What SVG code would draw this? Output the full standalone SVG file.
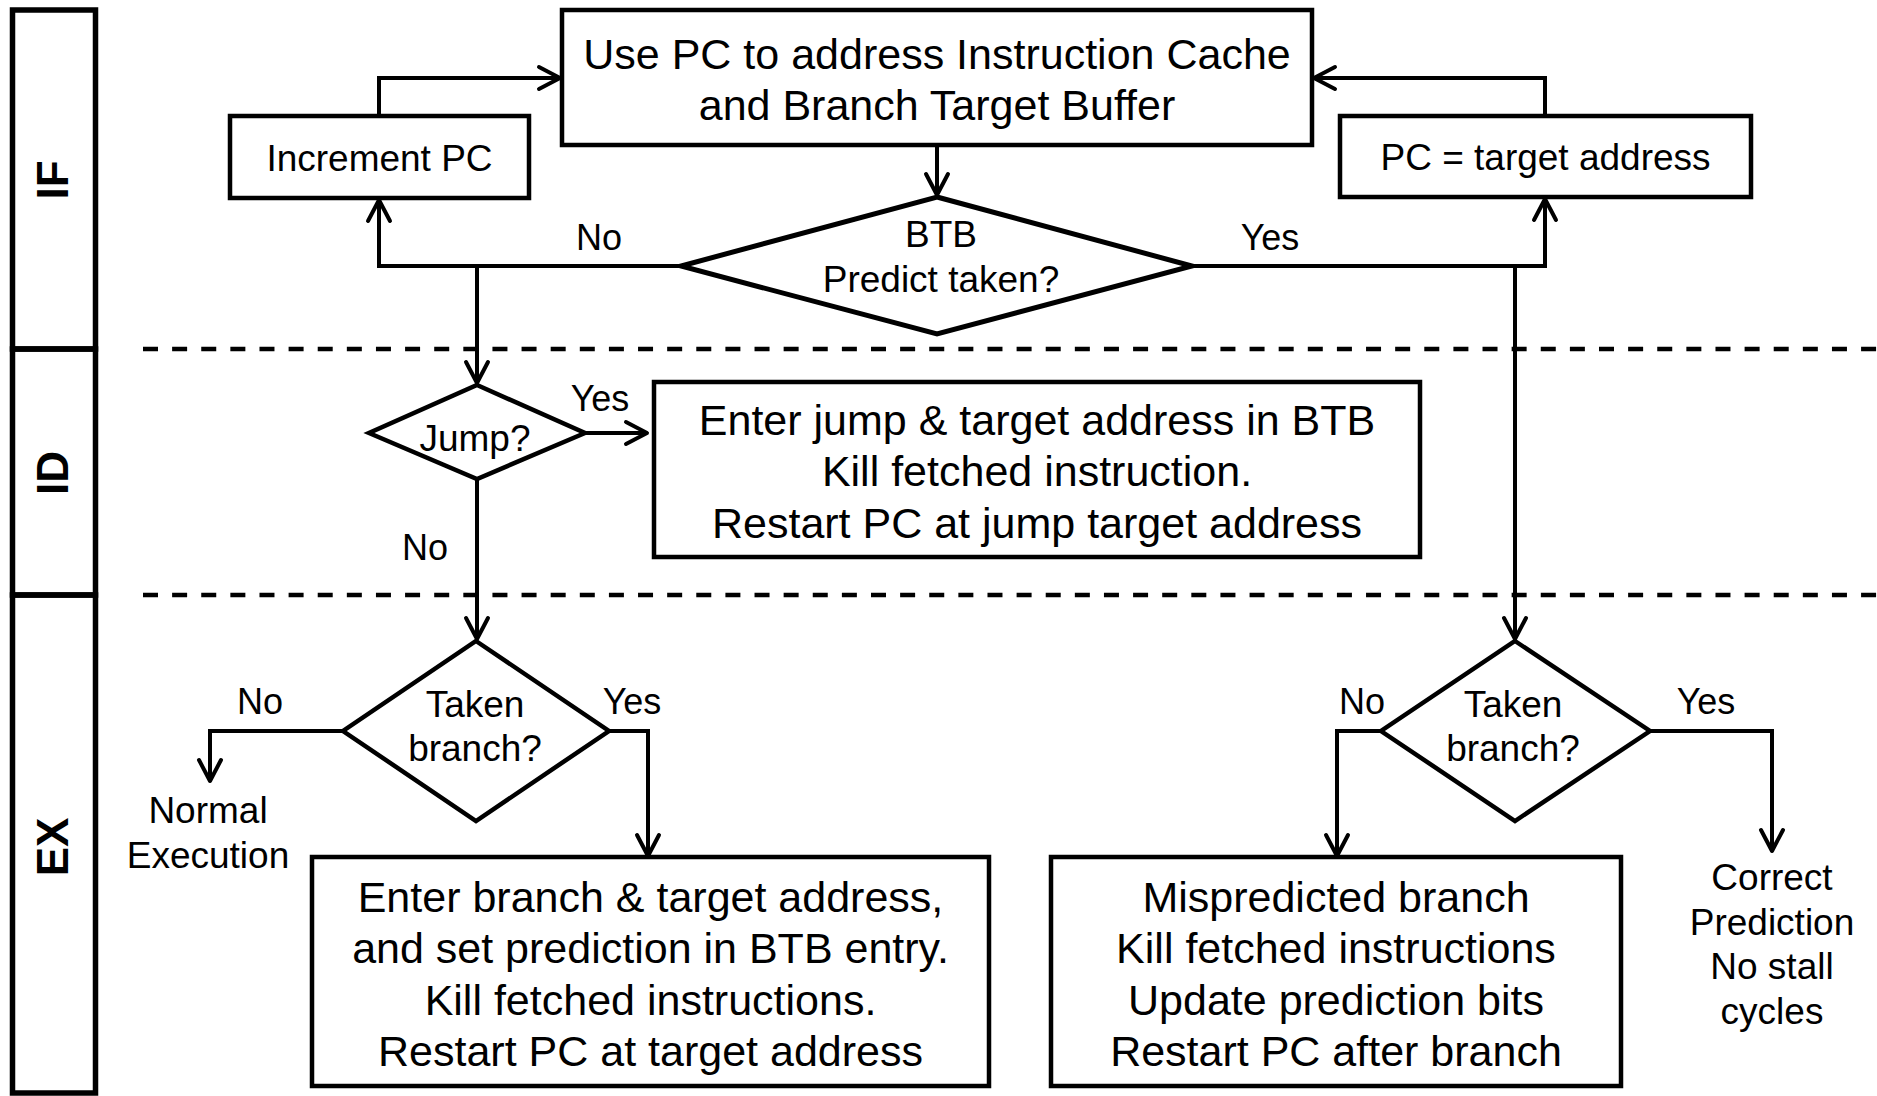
<svg xmlns="http://www.w3.org/2000/svg" width="1877" height="1096" viewBox="0 0 1877 1096">
  <style>
    .box { fill: #fff; stroke: #000; stroke-width: 4.5; }
    .dia { fill: #fff; stroke: #000; stroke-width: 4.5; stroke-linejoin: miter; }
    .lane { fill: none; stroke: #000; stroke-width: 5.5; }
    .sep { fill: none; stroke: #000; stroke-width: 4.5; stroke-dasharray: 15 14.12; }
    .wire { fill: none; stroke: #000; stroke-width: 4; marker-end: url(#arrow); }
    text { font-family: "Liberation Sans", Arial, sans-serif; fill: #000; text-anchor: middle; }
    .big { font-size: 43px; }
    .mid { font-size: 37px; }
    .lbl { font-size: 36px; }
    .stage { font-size: 44px; font-weight: bold; }
  </style>
  <defs>
    <marker id="arrow" markerUnits="userSpaceOnUse" viewBox="-26 -15 30 30" markerWidth="30" markerHeight="30" refX="0" refY="0" orient="auto">
      <path d="M-21,-11 L0,0 L-21,11" fill="none" stroke="#000" stroke-width="4" stroke-linejoin="round" stroke-linecap="round"/>
    </marker>
  </defs>

  <rect width="1877" height="1096" fill="#fff"/>

  <!-- pipeline stage column -->
  <g id="stages">
    <rect class="lane" x="12.5" y="10" width="83" height="339"/>
    <rect class="lane" x="12.5" y="349" width="83" height="246"/>
    <rect class="lane" x="12.5" y="595" width="83" height="498"/>
    <text class="stage" transform="translate(68,180) rotate(-90)">IF</text>
    <text class="stage" transform="translate(68,473) rotate(-90)">ID</text>
    <text class="stage" transform="translate(68,847) rotate(-90)">EX</text>
  </g>

  <!-- stage boundaries -->
  <g id="boundaries">
    <line class="sep" x1="143" y1="349" x2="1877" y2="349"/>
    <line class="sep" x1="143" y1="595" x2="1877" y2="595"/>
  </g>

  <!-- connectors -->
  <g id="connectors">
    <path class="wire" d="M379,116 V78 H560"/>
    <path class="wire" d="M937,146 V195"/>
    <path class="wire" d="M1545,116 V78 H1314"/>
    <path class="wire" d="M681,266 H379 V200"/>
    <path class="wire" d="M1192,266 H1545 V199"/>
    <path class="wire" d="M477,266 V383"/>
    <path class="wire" d="M585,433 H647"/>
    <path class="wire" d="M477,478 V639"/>
    <path class="wire" d="M1515,266 V639"/>
    <path class="wire" d="M343,731 H210 V781"/>
    <path class="wire" d="M609,731 H648 V856"/>
    <path class="wire" d="M1381,731 H1337 V856"/>
    <path class="wire" d="M1650,731 H1772 V851"/>
  </g>

  <!-- branch labels -->
  <g id="labels">
    <text class="lbl" x="599" y="250">No</text>
    <text class="lbl" x="1270" y="250">Yes</text>
    <text class="lbl" x="600" y="411">Yes</text>
    <text class="lbl" x="425" y="560">No</text>
    <text class="lbl" x="260" y="714">No</text>
    <text class="lbl" x="632" y="714">Yes</text>
    <text class="lbl" x="1362" y="714">No</text>
    <text class="lbl" x="1706" y="714">Yes</text>
  </g>

  <g id="fetch">
    <rect class="box" x="562" y="10" width="750" height="135"/>
    <text class="big" x="937" y="68.5">Use PC to address Instruction Cache</text>
    <text class="big" x="937" y="120">and Branch Target Buffer</text>
  </g>

  <g id="increment-pc">
    <rect class="box" x="230" y="116" width="299" height="82"/>
    <text class="mid" x="379.5" y="171">Increment PC</text>
  </g>

  <g id="pc-target">
    <rect class="box" x="1340" y="116" width="411" height="81"/>
    <text class="mid" x="1545.5" y="170">PC = target address</text>
  </g>

  <g id="btb-predict">
    <polygon class="dia" points="937,197 1192,266 937,334 681,266" style="stroke-width:5"/>
    <text class="mid" x="941" y="247">BTB</text>
    <text class="mid" x="941" y="292">Predict taken?</text>
  </g>

  <g id="jump">
    <polygon class="dia" points="477,385 585,433 477,479 369,433"/>
    <text class="mid" x="475" y="451">Jump?</text>
  </g>

  <g id="jump-action">
    <rect class="box" x="654" y="382" width="766" height="175"/>
    <text class="big" x="1037" y="434.5">Enter jump &amp; target address in BTB</text>
    <text class="big" x="1037" y="486">Kill fetched instruction.</text>
    <text class="big" x="1037" y="537.5">Restart PC at jump target address</text>
  </g>

  <g id="taken-not-predicted">
    <polygon class="dia" points="476,641 609,731 476,821 343,731"/>
    <text class="mid" x="475" y="717">Taken</text>
    <text class="mid" x="475" y="761">branch?</text>
  </g>

  <g id="normal-execution">
    <text class="mid" x="208" y="823">Normal</text>
    <text class="mid" x="208" y="867.5">Execution</text>
  </g>

  <g id="enter-branch">
    <rect class="box" x="312" y="857" width="677" height="229"/>
    <text class="big" x="650.5" y="911.5">Enter branch &amp; target address,</text>
    <text class="big" x="650.5" y="963">and set prediction in BTB entry.</text>
    <text class="big" x="650.5" y="1014.5">Kill fetched instructions.</text>
    <text class="big" x="650.5" y="1066">Restart PC at target address</text>
  </g>

  <g id="taken-predicted">
    <polygon class="dia" points="1515,641 1650,731 1515,821 1381,731"/>
    <text class="mid" x="1513" y="717">Taken</text>
    <text class="mid" x="1513" y="761">branch?</text>
  </g>

  <g id="mispredicted">
    <rect class="box" x="1051" y="857" width="570" height="229"/>
    <text class="big" x="1336" y="911.5">Mispredicted branch</text>
    <text class="big" x="1336" y="963">Kill fetched instructions</text>
    <text class="big" x="1336" y="1014.5">Update prediction bits</text>
    <text class="big" x="1336" y="1066">Restart PC after branch</text>
  </g>

  <g id="correct-prediction">
    <text class="mid" x="1772" y="890">Correct</text>
    <text class="mid" x="1772" y="934.5">Prediction</text>
    <text class="mid" x="1772" y="979">No stall</text>
    <text class="mid" x="1772" y="1023.5">cycles</text>
  </g>
</svg>
